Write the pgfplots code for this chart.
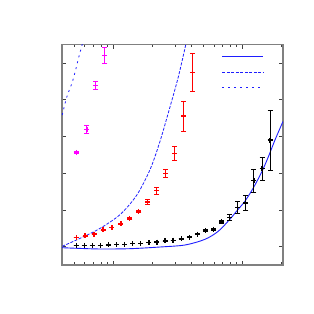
\documentclass[border=0pt]{standalone}
\usepackage{pgfplots}
\pgfplotsset{compat=1.18}
\pgfplotstableread{
x y e
0.515 1.037 0
0.5947 1.037 0
0.6868 1.037 0
0.7931 1.037 0
0.9158 1.045 0
1.0576 1.053 0
1.2213 1.064 0
1.4103 1.080 0
1.6286 1.091 0
1.8807 1.107 0
2.1718 1.126 0
2.5079 1.154 0
2.8961 1.175 0
3.3444 1.213 0.01
3.8620 1.254 0.015
4.4598 1.339 0.02
5.1501 1.434 0.025
5.9472 1.475 0.03
6.8677 1.671 0.035
7.9307 1.794 0.09
9.1582 2.066 0.163
10.5757 2.188 0.212
12.2126 2.795 0.31
14.1029 3.12 0.315
16.2857 3.904 0.817
}\blackdata
\pgfplotstableread{
x y e
0.515 1.243 0
0.6039 1.290 0
0.7082 1.344 0
0.8305 1.453 0
0.9740 1.527 0
1.1422 1.617 0
1.3394 1.772 0.02
1.5708 1.962 0.03
1.8420 2.216 0.068
2.1602 2.523 0.09
2.5333 2.997 0.11
2.9708 3.542 0.196
3.4839 4.558 0.408
4.0855 5.748 0.512
}\reddata
\pgfplotstableread{
x y e
0.515 3.569 0.02
0.6228 4.196 0.109
0.7311 5.383 0.109
0.8581 6.200 0.218
}\magdata
\definecolor{cblue}{RGB}{30,30,255}
\definecolor{cred}{RGB}{255,0,0}
\definecolor{cmag}{RGB}{255,0,255}
\begin{document}
\begin{tikzpicture}
\begin{axis}[
  scale only axis, width=221bp, height=220.3bp,
  xmode=log, xmin=0.4, xmax=20.5, ymin=0.5, ymax=6.5,
  xtick={1,10}, ytick={1,2,3,4,5,6},
  minor xtick={0.4,0.5,0.6,0.7,0.8,0.9,2,3,4,5,6,7,8,9,20},
  xticklabels={}, yticklabels={},
  tick align=inside,
  major tick length=4bp, minor tick length=2.5bp,
  axis line style={gray, line width=1.5bp},
  tick style={black!75, line width=0.6bp},
  legend style={at={(0.724,0.980)}, anchor=north west, draw=none, fill=none,
    inner sep=0pt, outer sep=0pt, row sep=0pt,
    nodes={inner sep=0pt, outer sep=0pt, minimum height=15.3bp, text width=0pt}},
  legend image code/.code={\draw[#1] (0bp,0bp) -- (41bp,0bp);},
]
\coordinate (bl) at (rel axis cs:0,0);
\coordinate (tr) at (rel axis cs:1,1);
\addplot[color=cblue, line width=0.9bp, smooth] coordinates {
(0.4014,0.971) (0.515,0.955) (0.789,0.936) (1.346,0.944) (2.296,0.990)
(3.582,1.045) (5.113,1.20) (6.478,1.42) (7.978,1.75) (9.085,1.99)
(10.42,2.24) (12.08,2.60) (14.03,3.033) (15.77,3.441) (17.77,3.904) (20.49,4.408)};
\addlegendentry{}
\addplot[color=cblue, line width=0.8bp, smooth, dash pattern=on 3bp off 1.5bp] coordinates {
(0.4014,1.009) (0.553,1.227) (0.789,1.499) (1.127,1.875) (1.517,2.406)
(1.921,3.101) (2.296,3.877) (2.742,4.811) (3.179,5.628) (3.627,6.5) (3.7,6.65)};
\addlegendentry{}
\addplot[color=cblue, line width=0.8bp, smooth, dash pattern=on 2bp off 4bp] coordinates {
(0.4014,4.585) (0.4364,5.083) (0.4771,5.448) (0.5058,5.764) (0.5364,6.129) (0.5729,6.5) (0.58,6.6)};
\addlegendentry{}
\addplot[forget plot, only marks, mark=+, mark size=2.5bp, color=black, line width=1.3bp,
  mark options={color=black},
  error bars/.cd, y dir=both, y explicit,
  error mark options={color=black, rotate=90, mark size=2.5bp, line width=0.9bp},
  error bar style={color=black, line width=0.9bp}]
  table[x=x, y=y, y error=e] {\blackdata};
\addplot[forget plot, only marks, mark=+, mark size=2.5bp, color=cred, line width=1.3bp,
  mark options={color=cred},
  error bars/.cd, y dir=both, y explicit,
  error mark options={color=cred, rotate=90, mark size=2.5bp, line width=0.9bp},
  error bar style={color=cred, line width=0.9bp}]
  table[x=x, y=y, y error=e] {\reddata};
\addplot[forget plot, only marks, mark=+, mark size=2.5bp, color=cmag, line width=1.3bp,
  mark options={color=cmag},
  error bars/.cd, y dir=both, y explicit,
  error mark options={color=cmag, rotate=90, mark size=2.5bp, line width=0.9bp},
  error bar style={color=cmag, line width=0.9bp}]
  table[x=x, y=y, y error=e] {\magdata};
\end{axis}
\path ([shift={(-62bp,-49bp)}]bl) rectangle ([shift={(31bp,44.7bp)}]tr);
\end{tikzpicture}
\end{document}
